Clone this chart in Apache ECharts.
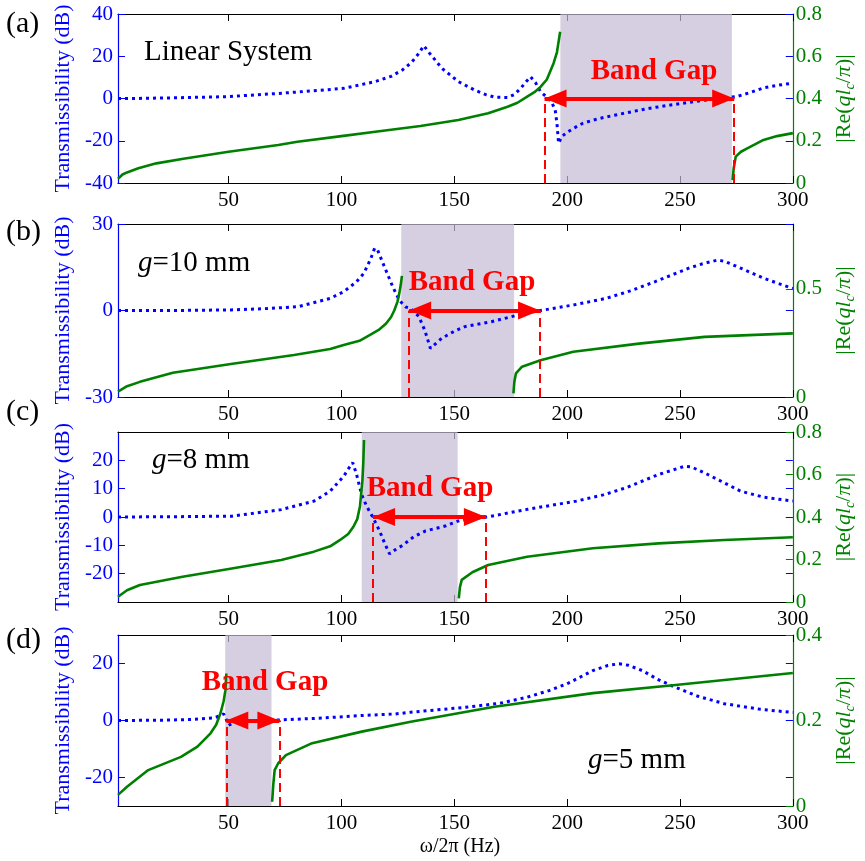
<!DOCTYPE html>
<html><head><meta charset="utf-8">
<script src="https://cdn.jsdelivr.net/npm/echarts@6/dist/echarts.min.js"></script>
<style>html,body{margin:0;padding:0;background:#fff}#c{width:865px;height:861px}</style>
</head><body><div id="c"></div>
<script>
// ---------- data ----------
const xTicks = [50, 100, 150, 200, 250, 300];
const panelLabels = ['(a)', '(b)', '(c)', '(d)'];
const notes = ['Linear System', '{i|g}=10 mm', '{i|g}=8 mm', '{i|g}=5 mm'];
const bandGapText = 'Band Gap';
const xName = 'ω/2π (Hz)';
const leftName = 'Transmissibility (dB)';
const leftRanges = [[-40, 40], [-30, 30], [-30, 30], [-30, 30]];
const leftTicks = [[-40, -20, 0, 20, 40], [-30, 0, 30], [-20, -10, 0, 10, 20], [-20, 0, 20]];
const rightRanges = [[0, 0.8], [0, 0.8], [0, 0.8], [0, 0.4]];
const rightTicks = [[0, 0.2, 0.4, 0.6, 0.8], [0, 0.5], [0, 0.2, 0.4, 0.6, 0.8], [0, 0.2, 0.4]];
const shadeBands = [[197, 273], [126.5, 176.5], [109, 151.5], [48.5, 69]];
const gapEdges = [[190, 274], [130, 188], [114, 164], [49, 72.5]];

const blueA = [[1,0],[10,0.05],[25,0.3],[50,0.9],[72,2.4],[86,3.5],[101,4.8],[115,8],[122,10.5],[127,13.5],[131,17],[134,21],[136.5,25],[139,21.5],[144.5,14.3],[151.8,8],[159,4],[164,1.8],[168,0.6],[173.5,0.5],[176.5,1.8],[179.4,4.8],[182,8.2],[183.8,10.3],[186,7.5],[188.2,3.2],[190.4,1.2],[193,-1.5],[194.7,-5.4],[195.5,-12],[196.2,-21.2],[197.6,-18],[200,-16],[203,-14],[207,-11.7],[214,-9.5],[221.5,-7.8],[236,-4.7],[250.7,-2.3],[266.7,0],[275,0.9],[281,2.8],[287,5],[293,6.2],[300,7.3]];
const greenA1 = [[1,0.02],[3,0.04],[5,0.05],[10,0.07],[18,0.093],[30,0.115],[50,0.148],[72,0.18],[80.5,0.195],[100,0.222],[115,0.243],[135,0.27],[151.8,0.298],[165,0.33],[173.6,0.361],[178,0.38],[182.3,0.409],[185.5,0.43],[188.3,0.456],[191,0.49],[194,0.567],[195.5,0.62],[196.9,0.716]];
const greenA2 = [[273.3,0.014],[273.8,0.07],[274.7,0.125],[277,0.148],[279.8,0.164],[287,0.204],[293,0.222],[300,0.236]];

const blueB = [[1,0],[25,0],[51,0.2],[65,0.6],[80.6,1.3],[95,4.2],[101,6.5],[106.7,10],[110,13],[113,18],[114.7,21.6],[116,21],[118.4,16.4],[122.7,8.3],[125.6,3.6],[128.5,1.2],[130.7,0.7],[134.3,-2.1],[137,-7],[139.4,-13.1],[144.5,-9.6],[150,-7.2],[154.7,-5.6],[166.4,-3.9],[176.5,-1.9],[182,-0.9],[188.2,0],[202.7,1.9],[217.2,4.2],[228,6.8],[239,10],[253.6,14.6],[260,16.2],[266.7,17.5],[270,17],[275.4,15.2],[287,11.2],[300,7.6]];
const greenB1 = [[1,0.025],[5,0.05],[10.7,0.07],[25.3,0.112],[51,0.153],[79,0.194],[95,0.222],[101,0.24],[108,0.26],[112.5,0.286],[116.5,0.31],[119.8,0.34],[122,0.37],[123.4,0.4],[124.8,0.44],[125.6,0.478],[126.3,0.52],[126.8,0.56]];
const greenB2 = [[176.2,0.017],[176.6,0.07],[177.3,0.109],[180,0.14],[188.2,0.17],[202.7,0.209],[231.8,0.247],[260.9,0.278],[300,0.294]];

const blueC = [[1,0],[25,0.1],[51.4,0.3],[73.3,2.6],[87.8,5.6],[95,9.1],[101,14.4],[103.5,17.5],[105,19.2],[106.7,15],[108.9,8],[111.1,3.9],[114,-0.2],[116.9,-4.9],[119,-9],[121.3,-13],[124,-11.5],[127.1,-10],[132,-7],[137.3,-4.9],[146,-3.2],[151.8,-1.4],[158,-0.6],[164.6,0],[182.3,2.7],[204.1,5.6],[216,7.8],[226,10.3],[240.5,15],[252,17.9],[255,17.7],[262.3,15],[276.9,9.1],[287,7],[297.3,5.9],[300,5.6]];
const greenC1 = [[1,0.025],[5,0.055],[10.7,0.08],[29.6,0.119],[51.4,0.158],[73.3,0.198],[87.8,0.237],[95,0.262],[99.4,0.292],[103,0.32],[105.3,0.354],[107,0.39],[108.2,0.449],[109.3,0.574],[109.7,0.66],[110,0.762]];
const greenC2 = [[152,0.017],[152.5,0.07],[153.3,0.104],[158,0.14],[165,0.174],[182.3,0.213],[211.4,0.253],[240.5,0.276],[269.6,0.292],[300,0.305]];

const blueD = [[1,0],[20,0.1],[35,0.4],[43.5,0.9],[46,1.6],[47.8,2.3],[49,0.3],[50,-1.7],[52,-0.8],[55,-0.3],[60,-0.3],[72.5,0.2],[90,0.8],[110,1.8],[124,2.3],[130.7,2.9],[153.3,4.5],[170,6],[182.3,8.2],[192,10.5],[200,12.9],[211.4,17.5],[218,19.3],[223,19.9],[227,19.4],[233.3,17.5],[240,14.5],[247.8,11.7],[258,8.5],[269.6,5.9],[285,4],[298.7,2.9],[300,2.8]];
const greenD1 = [[1,0.026],[5,0.045],[14.4,0.084],[28.9,0.115],[36.2,0.139],[42,0.17],[44.5,0.19],[46.4,0.217],[47.8,0.245],[48.6,0.271],[49,0.31]];
const greenD2 = [[69.3,0.01],[69.8,0.05],[70.4,0.084],[72,0.1],[75.4,0.119],[87,0.147],[109,0.174],[130.7,0.197],[167.8,0.232],[211.4,0.264],[248,0.283],[300,0.311]];

const blueData = [blueA, blueB, blueC, blueD];
const greenData = [[greenA1, greenA2], [greenB1, greenB2], [greenC1, greenC2], [greenD1, greenD2]];

// ---------- layout / style ----------
const FONT = '"Liberation Serif", "Times New Roman", serif';
const BLUE = '#0000ff', GREEN = '#008000', RED = '#ff0000';
const gridTops = [14, 224, 432, 635];
const gridHeights = [169, 173, 170, 171];
const labelPos = [[6, 24], [6, 232], [6, 412], [6, 640]];
const notePos = [[144, 52], [138, 263], [152, 460], [588, 760]];
const bandTextPos = [[654, 72], [472, 283], [430, 489], [265, 683]];

const grid = [], xAxis = [], yAxis = [], series = [], graphic = [];
for (let p = 0; p < 4; p++) {
  grid.push({left: 118, width: 685, top: gridTops[p], height: gridHeights[p], containLabel: false});
  xAxis.push({
    type: 'value', gridIndex: p, min: 1, max: 300, position: 'bottom',
    axisLine: {show: true, onZero: false, lineStyle: {color: '#000', width: 1.2}},
    axisTick: {show: true, inside: true, length: 7, customValues: xTicks, lineStyle: {color: '#000', width: 1}},
    axisLabel: {show: true, customValues: xTicks, color: '#000', fontFamily: FONT, fontSize: 21, margin: 7},
    splitLine: {show: false}
  });
  xAxis.push({
    type: 'value', gridIndex: p, min: 1, max: 300, position: 'top',
    axisLine: {show: true, onZero: false, lineStyle: {color: '#000', width: 1.2}},
    axisTick: {show: true, inside: true, length: 7, customValues: xTicks, lineStyle: {color: '#000', width: 1}},
    axisLabel: {show: false, customValues: xTicks},
    splitLine: {show: false}
  });
  yAxis.push({
    type: 'value', gridIndex: p, position: 'left', min: leftRanges[p][0], max: leftRanges[p][1],
    name: leftName, nameLocation: 'middle', nameRotate: 90, nameGap: 36,
    nameTextStyle: {color: BLUE, fontFamily: FONT, fontSize: 22},
    axisLine: {show: true, onZero: false, lineStyle: {color: BLUE, width: 1.2}},
    axisTick: {show: true, inside: true, length: 7, customValues: leftTicks[p], lineStyle: {color: BLUE}},
    axisLabel: {show: true, customValues: leftTicks[p], color: BLUE, fontFamily: FONT, fontSize: 21, margin: 5},
    splitLine: {show: false}
  });
  yAxis.push({
    type: 'value', gridIndex: p, position: 'right', min: rightRanges[p][0], max: rightRanges[p][1],
    name: '|Re({i|ql}{s|c}{n|/}{i|π}{n|)|}', nameLocation: 'middle', nameRotate: 90, nameGap: 38,
    nameTextStyle: {color: GREEN, fontFamily: FONT, fontSize: 22,
      rich: {i: {fontStyle: 'italic', color: GREEN, fontFamily: FONT, fontSize: 22},
             n: {color: GREEN, fontFamily: FONT, fontSize: 22},
             s: {fontStyle: 'italic', color: GREEN, fontFamily: FONT, fontSize: 14, verticalAlign: 'bottom', padding: [12, 0, 0, 0]}}},
    axisLine: {show: true, onZero: false, lineStyle: {color: GREEN, width: 1.2}},
    axisTick: {show: true, inside: true, length: 7, customValues: rightTicks[p], lineStyle: {color: GREEN}},
    axisLabel: {show: true, customValues: rightTicks[p], color: GREEN, fontFamily: FONT, fontSize: 21, margin: 3},
    splitLine: {show: false}
  });
  yAxis.push({
    type: 'value', gridIndex: p, position: 'right', min: leftRanges[p][0], max: leftRanges[p][1],
    axisLine: {show: false},
    axisTick: {show: true, inside: true, length: 7, customValues: leftTicks[p], lineStyle: {color: BLUE}},
    axisLabel: {show: false, customValues: leftTicks[p]},
    splitLine: {show: false}
  });

  const xi = 2 * p, yl = 3 * p, yr = 3 * p + 1;
  series.push({
    type: 'line', xAxisIndex: xi, yAxisIndex: yl, data: blueData[p], showSymbol: false, symbol: 'none',
    lineStyle: {color: BLUE, width: 3, type: [3, 4], cap: 'butt'}, z: 2, silent: true
  });
  greenData[p].forEach(seg => series.push({
    type: 'line', xAxisIndex: xi, yAxisIndex: yr, data: seg, showSymbol: false, symbol: 'none',
    lineStyle: {color: GREEN, width: 2.6, join: 'round'}, z: 3, silent: true
  }));
  // translucent band-gap shading drawn over the curves
  series.push({
    type: 'line', xAxisIndex: xi, yAxisIndex: yl, data: [], z: 4, silent: true,
    markArea: {silent: true, itemStyle: {color: 'rgba(195,186,212,0.7)'}, label: {show: false},
      data: [[{xAxis: shadeBands[p][0]}, {xAxis: shadeBands[p][1]}]]}
  });
  const ymin = leftRanges[p][0];
  series.push({
    type: 'line', xAxisIndex: xi, yAxisIndex: yl, data: [], z: 5, silent: true,
    markLine: {silent: true, symbol: ['none', 'none'], label: {show: false},
      lineStyle: {color: RED, width: 2, type: [9, 5]},
      data: gapEdges[p].map(x => [{coord: [x, ymin]}, {coord: [x, 0]}])}
  });
  series.push({
    type: 'line', xAxisIndex: xi, yAxisIndex: yl, data: [], z: 6, silent: true,
    markLine: {silent: true, symbol: ['triangle', 'triangle'], symbolSize: [18, 22],
      symbolOffset: [[0, 11], [0, 11]],
      label: {show: false}, lineStyle: {color: RED, width: 4, type: 'solid'},
      data: [[{coord: [gapEdges[p][0], 0]}, {coord: [gapEdges[p][1], 0]}]]}
  });

  graphic.push({type: 'text', x: labelPos[p][0], y: labelPos[p][1], z: 10,
    style: {text: panelLabels[p], fill: '#000', fontFamily: FONT, fontSize: 30, align: 'left', verticalAlign: 'middle'}});
  graphic.push({type: 'text', x: notePos[p][0], y: notePos[p][1], z: 10,
    style: {text: notes[p], fill: '#000', fontFamily: FONT, fontSize: 29, align: 'left', verticalAlign: 'middle',
      rich: {i: {fontStyle: 'italic', fontFamily: FONT, fontSize: 29, fill: '#000'}}}});
  graphic.push({type: 'text', x: bandTextPos[p][0], y: bandTextPos[p][1], z: 10,
    style: {text: bandGapText, fill: RED, fontFamily: FONT, fontSize: 29, fontWeight: 'bold', align: 'center', verticalAlign: 'middle'}});
}
graphic.push({type: 'text', x: 460, y: 847, z: 10,
  style: {text: xName, fill: '#000', fontFamily: FONT, fontSize: 20, align: 'center', verticalAlign: 'middle'}});

const chart = echarts.init(document.getElementById('c'), null, {renderer: 'canvas'});
chart.setOption({animation: false, backgroundColor: '#fff', grid, xAxis, yAxis, series, graphic});
</script></body></html>
